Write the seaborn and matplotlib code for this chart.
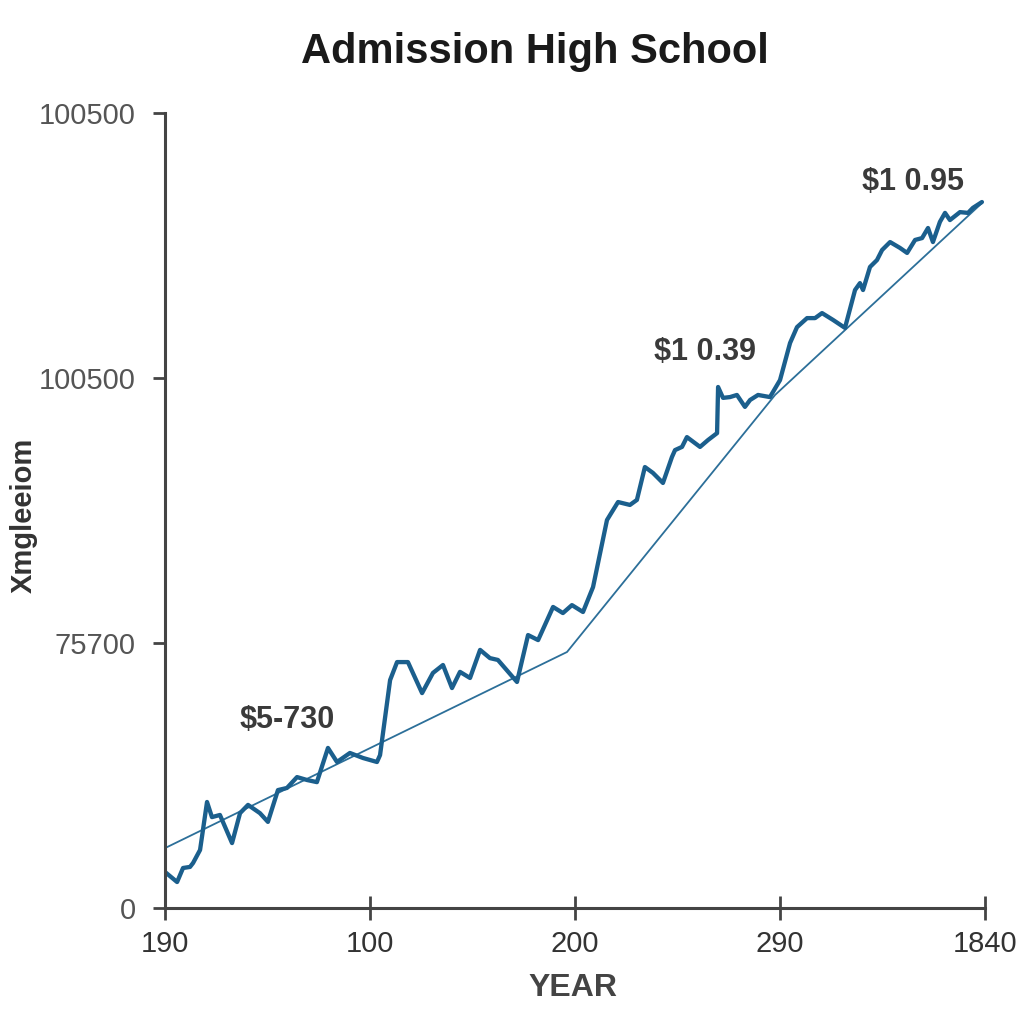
import matplotlib
matplotlib.use("Agg")
import matplotlib.pyplot as plt
import seaborn as sns
import pandas as pd

# ---- data ----
year_pos = [0.0, 0.59, 0.88, 1.22, 1.37, 1.71, 2.05, 2.29, 2.68, 3.27, 3.66, 4.05, 4.63, 5.02,
            5.51, 5.95, 6.44, 6.93, 7.41, 7.95, 8.39, 9.02, 9.66, 10.34, 10.49, 10.98, 11.32,
            11.85, 12.54, 13.07, 13.56, 14.00, 14.39, 14.88, 15.37, 15.85, 16.24, 17.17, 17.71,
            18.20, 18.93, 19.41, 19.85, 20.39, 20.88, 21.56, 21.71, 22.10, 22.68, 23.02, 23.41,
            23.80, 24.29, 24.73, 24.88, 25.22, 25.46, 26.10, 26.49, 26.93, 26.98, 27.22, 27.56,
            27.90, 28.29, 28.54, 28.93, 29.51, 30.00, 30.49, 30.83, 31.32, 31.71, 32.05, 32.59,
            33.17, 33.66, 33.90, 34.05, 34.39, 34.73, 34.98, 35.37, 35.85, 36.20, 36.59, 36.93,
            37.22, 37.46, 37.80, 38.05, 38.29, 38.78, 39.17, 39.41, 39.85]
admissions = [13.6, 9.8, 15.1, 15.5, 17.0, 21.9, 40.0, 34.3, 35.1, 24.5, 35.8, 38.9, 35.8, 32.5,
              44.5, 45.3, 49.4, 48.3, 47.5, 60.4, 55.1, 58.5, 56.6, 55.1, 57.7, 86.0, 92.8,
              92.8, 81.1, 88.7, 91.7, 83.0, 89.1, 86.8, 97.4, 94.3, 93.6, 85.3, 103.0,
              101.1, 113.6, 111.3, 114.3, 111.7, 121.1, 146.4, 148.3, 153.2, 152.1, 154.0, 166.4,
              164.2, 160.4, 170.2, 172.8, 174.0, 177.7, 174.0, 176.6, 179.2, 196.6, 192.5, 192.8,
              193.6, 189.1, 191.7, 193.6, 192.8, 199.2, 213.2, 219.2, 222.6, 222.6, 224.5, 221.9,
              218.9, 233.2, 235.8, 233.2, 241.9, 244.5, 248.3, 251.3, 249.1, 247.2, 252.1, 252.8,
              256.6, 251.3, 258.9, 262.3, 259.6, 262.6, 262.3, 264.2, 266.4]

trend_pos = [0.0, 19.61, 29.76, 39.85]
trend_vals = [22.6, 96.6, 193.6, 266.0]

x_ticks = [0, 10, 20, 30, 40]
x_tick_labels = ["190", "100", "200", "290", "1840"]
y_ticks = [0, 100, 200, 300]
y_tick_labels = ["0", "75700", "100500", "100500"]

annot_text = ["$5-730", "$1 0.39", "$1 0.95"]
annot_x = [5.95, 26.34, 36.49]
annot_y = [70.9, 209.8, 274.0]

title = "Admission High School"
x_label = "YEAR"
y_label = "Xmgleeiom"

# ---- plot ----
sns.set_style("white")
plt.rcParams['font.family'] = ['Liberation Sans', 'DejaVu Sans']

fig = plt.figure(figsize=(10.24, 10.24), dpi=100)
ax = fig.add_axes([165/1024, 1 - 908/1024, 820/1024, 795/1024])

df_main = pd.DataFrame({"year": year_pos, "value": admissions})
df_trend = pd.DataFrame({"year": trend_pos, "value": trend_vals})

sns.lineplot(data=df_trend, x="year", y="value", ax=ax, color="#2c6f99", linewidth=1.3)
sns.lineplot(data=df_main, x="year", y="value", ax=ax, color="#1b5f8d", linewidth=3.1)

ax.set_xlim(0, 40)
ax.set_ylim(0, 300)

ax.set_xticks(x_ticks)
ax.set_xticklabels(x_tick_labels, fontsize=21, color="#333333")
ax.set_yticks(y_ticks)
ax.set_yticklabels(y_tick_labels, fontsize=21, color="#555555")

ax.tick_params(axis='x', bottom=True, direction='inout', length=17, width=2,
               color="#444444", pad=7)
ax.tick_params(axis='y', left=True, direction='out', length=9, width=2,
               color="#444444", pad=12)

for s in ["top", "right"]:
    ax.spines[s].set_visible(False)
for s in ["left", "bottom"]:
    ax.spines[s].set_color("#444444")
    ax.spines[s].set_linewidth(2.2)

ax.set_xlabel(x_label, fontsize=23, fontweight='bold', color="#444444")
ax.xaxis.set_label_coords(0.498, -0.082)
ax.set_ylabel(y_label, fontsize=21, fontweight='bold', color="#333333")
ax.yaxis.set_label_coords(-0.155, 0.494)

for t, x, y in zip(annot_text, annot_x, annot_y):
    ax.text(x, y, t, fontsize=22, fontweight='bold', color="#3a3a3a",
            ha='center', va='center')

fig.text(535/1024, 1 - 52/1024, title, fontsize=30, fontweight='bold', color="#1a1a1a",
         ha='center', va='center')

fig.savefig("out.png", dpi=100, facecolor="white")
